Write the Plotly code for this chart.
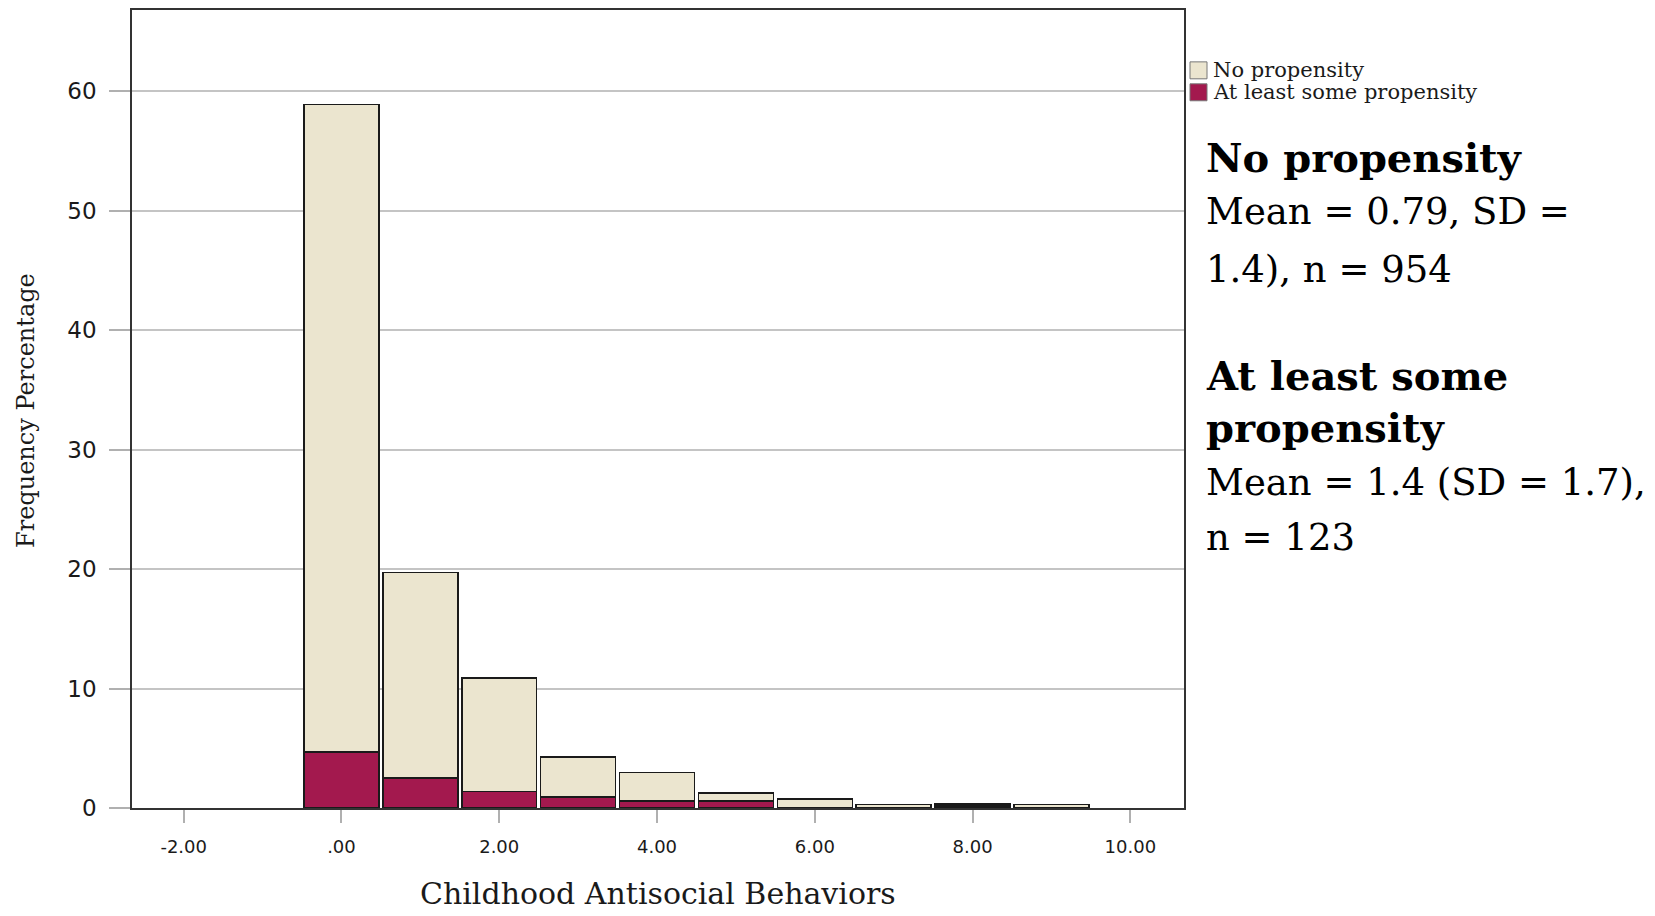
import plotly.graph_objects as go

# Data (frequency percentage, stacked)
categories = [0, 1, 2, 3, 4, 5, 6, 7, 8, 9]
some_propensity = [4.7, 2.5, 1.4, 0.92, 0.58, 0.58, 0.0, 0.0, 0.15, 0.0]
no_propensity = [54.2, 17.2, 9.5, 3.34, 2.4, 0.67, 0.75, 0.28, 0.18, 0.28]
x_tickvals = [-2, 0, 2, 4, 6, 8, 10]
x_ticktext = ["-2.00", ".00", "2.00", "4.00", "6.00", "8.00", "10.00"]
y_tickvals = [0, 10, 20, 30, 40, 50, 60]
series_names = ["No propensity", "At least some propensity"]
colors = ["#EBE5CF", "#A3194E"]
stats_lines = [
    ("<b>No propensity</b>", 156, 40),
    ("Mean = 0.79, SD =", 210, 37),
    ("1.4), n = 954", 268, 37),
    ("<b>At least some</b>", 374, 40),
    ("<b>propensity</b>", 427, 40),
    ("Mean = 1.4 (SD = 1.7),", 482, 37),
    ("n = 123", 537, 37),
]

W, H = 1655, 916
L, R, T, B = 132, 1184, 8, 808
pw, ph = R - L, B - T


def px_x(x):
    return (x - L) / pw


def px_y(y):
    return (B - y) / ph


fig = go.Figure()
fig.add_trace(go.Bar(x=categories, y=some_propensity, name=series_names[1],
                     marker=dict(color=colors[1], line=dict(color="#1a1a1a", width=1.5)),
                     showlegend=False))
fig.add_trace(go.Bar(x=categories, y=no_propensity, name=series_names[0],
                     marker=dict(color=colors[0], line=dict(color="#1a1a1a", width=1.5)),
                     showlegend=False))

shapes = []
annotations = []
# custom legend
leg_rows = [(series_names[0], colors[0], 60, 77), (series_names[1], colors[1], 82, 99)]
for name, col, y0, y1 in leg_rows:
    shapes.append(dict(type="rect", xref="paper", yref="paper",
                       x0=px_x(1190), x1=px_x(1207), y0=px_y(y1), y1=px_y(y0),
                       fillcolor=col, line=dict(color="#777777", width=1)))
    annotations.append(dict(xref="paper", yref="paper", x=px_x(1211), y=px_y((y0 + y1) / 2),
                            text=name, showarrow=False, xanchor="left", yanchor="middle",
                            font=dict(family="DejaVu Serif", size=21, color="#1a1a1a")))

for txt, ypx, fs in stats_lines:
    annotations.append(dict(xref="paper", yref="paper", x=px_x(1204), y=px_y(ypx),
                            text=txt, showarrow=False, xanchor="left", yanchor="middle",
                            font=dict(family="DejaVu Serif", size=fs, color="#000000")))

annotations.append(dict(xref="paper", yref="paper", x=0.5, y=px_y(894),
                        text="Childhood Antisocial Behaviors", showarrow=False,
                        xanchor="center", yanchor="middle",
                        font=dict(family="DejaVu Serif", size=30, color="#1a1a1a")))
annotations.append(dict(xref="paper", yref="paper", x=px_x(26), y=px_y(410),
                        text="Frequency Percentage", showarrow=False, textangle=-90,
                        xanchor="center", yanchor="middle",
                        font=dict(family="DejaVu Serif", size=24, color="#1a1a1a")))

fig.update_layout(
    width=W, height=H,
    margin=dict(l=L, r=W - R, t=T, b=H - B, pad=0),
    paper_bgcolor="white", plot_bgcolor="white",
    barmode="stack", bargap=0.05,
    shapes=shapes, annotations=annotations,
    showlegend=False,
)
fig.update_xaxes(range=[-2.655, 10.68], tickvals=x_tickvals, ticktext=x_ticktext,
                 ticks="outside", ticklen=13, tickcolor="#b0b0b0", tickwidth=2,
                 showgrid=False, zeroline=False,
                 showline=True, linecolor="#333333", linewidth=1.5, mirror=True,
                 ticklabelstandoff=9,
                 tickfont=dict(family="DejaVu Sans", size=18, color="#1a1a1a"))
fig.update_yaxes(range=[0, 66.8], tickvals=y_tickvals,
                 ticks="outside", ticklen=21, tickcolor="#b0b0b0", tickwidth=1.5,
                 showgrid=True, gridcolor="#c4c4c4", gridwidth=1.5, zeroline=False,
                 showline=True, linecolor="#333333", linewidth=1.5, mirror=True,
                 ticklabelstandoff=8,
                 tickfont=dict(family="DejaVu Sans", size=23, color="#1a1a1a"))

fig.write_html("out.html", config={"displayModeBar": False},
               post_script="document.body.style.margin='0px';document.body.style.overflow='hidden';")
